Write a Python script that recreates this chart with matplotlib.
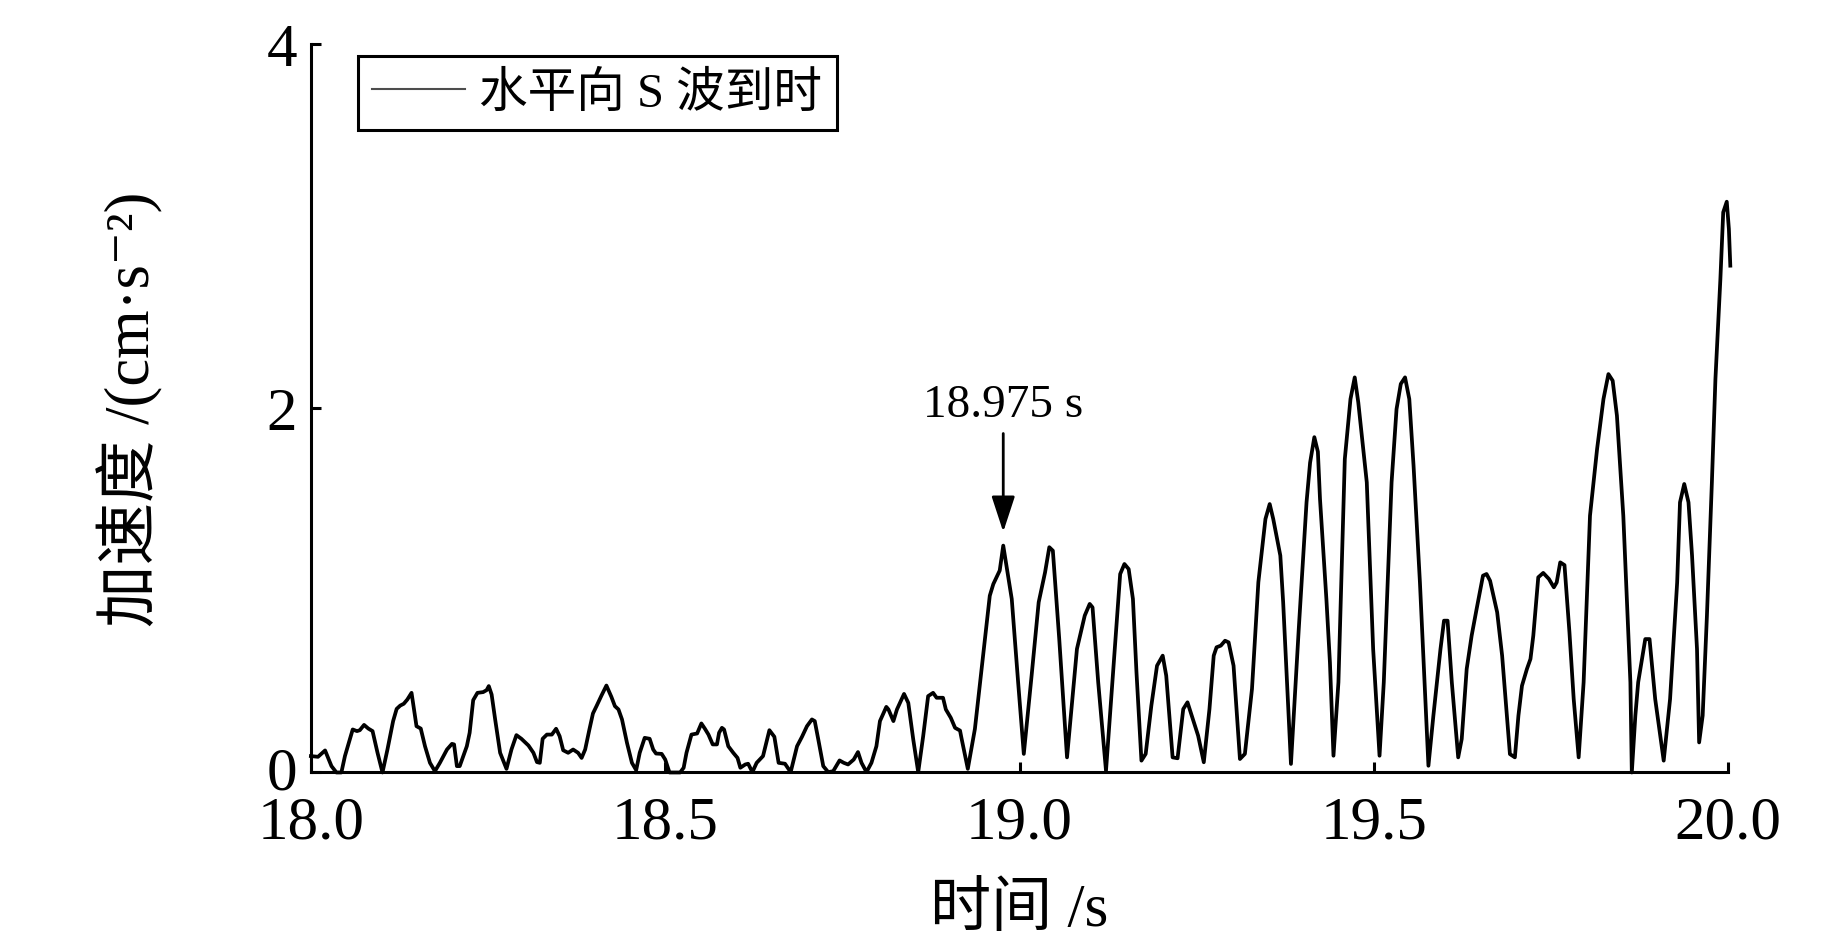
import numpy as np
import matplotlib
matplotlib.use('Agg')
import matplotlib.pyplot as plt
from matplotlib.transforms import ScaledTranslation

# Fonts: Times-like for latin, CJK fallback
plt.rcParams['font.family'] = ['Liberation Serif', 'Noto Sans CJK SC', 'DejaVu Serif']
plt.rcParams['axes.unicode_minus'] = True

# Data
t = [18.000, 18.010, 18.020, 18.029, 18.036, 18.043, 18.048, 18.059, 18.065, 18.069,
     18.075, 18.081, 18.087, 18.094, 18.101, 18.108, 18.116, 18.121, 18.126, 18.131,
     18.136, 18.142, 18.149, 18.155, 18.161, 18.168, 18.175, 18.182, 18.192, 18.199,
     18.202, 18.206, 18.210, 18.220, 18.224, 18.229, 18.235, 18.243, 18.248, 18.251,
     18.255, 18.260, 18.267, 18.276, 18.283, 18.290, 18.297, 18.307, 18.314, 18.319,
     18.323, 18.327, 18.333, 18.340, 18.346, 18.351, 18.356, 18.363, 18.370, 18.377,
     18.382, 18.387, 18.393, 18.398, 18.403, 18.410, 18.417, 18.424, 18.429, 18.434,
     18.439, 18.446, 18.453, 18.459, 18.464, 18.471, 18.478, 18.483, 18.487, 18.495,
     18.500, 18.506, 18.521, 18.526, 18.530, 18.537, 18.545, 18.551, 18.556, 18.561,
     18.567, 18.573, 18.576, 18.580, 18.583, 18.589, 18.596, 18.602, 18.606, 18.613,
     18.617, 18.623, 18.629, 18.638, 18.647, 18.654, 18.660, 18.669, 18.677, 18.686,
     18.693, 18.700, 18.707, 18.711, 18.716, 18.723, 18.730, 18.737, 18.746, 18.752,
     18.758, 18.766, 18.772, 18.777, 18.784, 18.791, 18.798, 18.803, 18.812, 18.815,
     18.822, 18.827, 18.837, 18.843, 18.850, 18.857, 18.864, 18.871, 18.878, 18.883,
     18.892, 18.896, 18.903, 18.909, 18.916, 18.918, 18.927, 18.937, 18.949, 18.958,
     18.963, 18.972, 18.977, 18.989, 18.998, 19.006, 19.017, 19.027, 19.036, 19.042,
     19.047, 19.056, 19.067, 19.081, 19.092, 19.099, 19.103, 19.111, 19.122, 19.132,
     19.142, 19.148, 19.154, 19.160, 19.165, 19.172, 19.178, 19.186, 19.194, 19.202,
     19.207, 19.216, 19.223, 19.231, 19.237, 19.243, 19.252, 19.260, 19.268, 19.274,
     19.278, 19.284, 19.290, 19.295, 19.302, 19.311, 19.318, 19.328, 19.337, 19.347,
     19.353, 19.358, 19.368, 19.372, 19.383, 19.394, 19.405, 19.410, 19.416, 19.421,
     19.424, 19.433, 19.438, 19.443, 19.450, 19.459, 19.467, 19.473, 19.478, 19.485,
     19.490, 19.499, 19.508, 19.514, 19.525, 19.532, 19.538, 19.544, 19.550, 19.556,
     19.565, 19.577, 19.584, 19.594, 19.599, 19.604, 19.610, 19.619, 19.624, 19.631,
     19.638, 19.645, 19.654, 19.659, 19.664, 19.674, 19.681, 19.692, 19.699, 19.704,
     19.709, 19.716, 19.721, 19.725, 19.732, 19.739, 19.747, 19.754, 19.758, 19.763,
     19.769, 19.776, 19.782, 19.789, 19.796, 19.805, 19.815, 19.824, 19.831, 19.837,
     19.843, 19.852, 19.862, 19.864, 19.869, 19.873, 19.883, 19.889, 19.897, 19.909,
     19.918, 19.928, 19.932, 19.938, 19.944, 19.949, 19.956, 19.959, 19.964, 19.970,
     19.977, 19.982, 19.989, 19.993, 19.998, 20.001, 20.003]

acc = [0.090, 0.086, 0.121, 0.035, 0.000, 0.000, 0.090, 0.236, 0.227, 0.232,
       0.261, 0.241, 0.227, 0.108, 0.000, 0.126, 0.282, 0.349, 0.367, 0.377,
       0.400, 0.437, 0.254, 0.241, 0.144, 0.053, 0.007, 0.053, 0.126, 0.157,
       0.154, 0.035, 0.035, 0.144, 0.218, 0.397, 0.437, 0.441, 0.452, 0.474,
       0.428, 0.291, 0.108, 0.020, 0.126, 0.205, 0.185, 0.148, 0.108, 0.057,
       0.053, 0.185, 0.208, 0.208, 0.240, 0.199, 0.122, 0.108, 0.126, 0.108,
       0.080, 0.126, 0.236, 0.324, 0.364, 0.422, 0.477, 0.415, 0.364, 0.346,
       0.291, 0.163, 0.053, 0.013, 0.108, 0.190, 0.185, 0.126, 0.104, 0.102,
       0.071, 0.000, 0.000, 0.026, 0.108, 0.208, 0.214, 0.269, 0.240, 0.208,
       0.154, 0.154, 0.218, 0.245, 0.236, 0.144, 0.108, 0.080, 0.026, 0.044,
       0.048, 0.002, 0.053, 0.090, 0.232, 0.196, 0.053, 0.048, 0.002, 0.144,
       0.196, 0.254, 0.291, 0.282, 0.181, 0.035, 0.002, 0.007, 0.066, 0.053,
       0.044, 0.071, 0.112, 0.053, 0.002, 0.053, 0.144, 0.282, 0.360, 0.346,
       0.282, 0.346, 0.431, 0.382, 0.181, 0.002, 0.199, 0.419, 0.437, 0.410,
       0.410, 0.346, 0.300, 0.245, 0.230, 0.190, 0.020, 0.239, 0.659, 0.970,
       1.034, 1.108, 1.245, 0.952, 0.495, 0.102, 0.531, 0.934, 1.098, 1.236,
       1.217, 0.733, 0.083, 0.678, 0.861, 0.925, 0.906, 0.495, 0.010, 0.550,
       1.089, 1.144, 1.116, 0.952, 0.550, 0.065, 0.102, 0.367, 0.586, 0.641,
       0.531, 0.083, 0.078, 0.348, 0.385, 0.312, 0.202, 0.056, 0.348, 0.641,
       0.687, 0.696, 0.723, 0.714, 0.586, 0.074, 0.102, 0.458, 1.044, 1.391,
       1.473, 1.391, 1.190, 0.934, 0.047, 0.787, 1.483, 1.700, 1.840, 1.760,
       1.500, 0.952, 0.604, 0.092, 0.495, 1.720, 2.049, 2.168, 2.031, 1.775,
       1.592, 0.677, 0.092, 0.495, 1.592, 1.994, 2.132, 2.168, 2.049, 1.684,
       1.043, 0.037, 0.312, 0.677, 0.833, 0.833, 0.495, 0.083, 0.184, 0.568,
       0.751, 0.897, 1.080, 1.089, 1.052, 0.879, 0.641, 0.101, 0.083, 0.312,
       0.476, 0.568, 0.623, 0.751, 1.071, 1.095, 1.062, 1.016, 1.043, 1.153,
       1.138, 0.769, 0.403, 0.083, 0.495, 1.409, 1.775, 2.049, 2.186, 2.150,
       1.958, 1.409, 0.495, 0.000, 0.312, 0.495, 0.732, 0.732, 0.403, 0.065,
       0.403, 1.043, 1.482, 1.583, 1.482, 1.190, 0.677, 0.165, 0.312, 0.860,
       1.592, 2.159, 2.708, 3.074, 3.132, 2.982, 2.781]

x_ticks = [18.0, 18.5, 19.0, 19.5, 20.0]
y_ticks = [0, 2, 4]
arrival_time = 18.977
arrival_label = '18.975 s'

fig = plt.figure(figsize=(18.43, 9.45), dpi=100)
ax = fig.add_axes([0.1687, 0.1815, 0.769, 0.7714])

ax.plot(t, acc, color='k', lw=2.7, label='水平向 S 波到时', clip_on=False)

# arrow marking the S-wave arrival
ax.annotate('', xy=(arrival_time, 1.32), xytext=(arrival_time, 1.86),
            arrowprops=dict(arrowstyle='-|>,head_length=1.1,head_width=0.36',
                            color='k', lw=2, shrinkA=0, shrinkB=0, mutation_scale=20))
ax.text(arrival_time, 2.016, arrival_label, ha='center', va='center', fontsize=34)

ax.set_xlim(18.0, 20.0)
ax.set_ylim(0, 4)
ax.set_xticks(x_ticks)
ax.set_xticklabels(['%.1f' % v for v in x_ticks])
ax.set_yticks(y_ticks)

for s in ['top', 'right']:
    ax.spines[s].set_visible(False)
for s in ['left', 'bottom']:
    ax.spines[s].set_linewidth(2.2)

ax.tick_params(direction='in', length=7, width=2.2, labelsize=44)
ax.tick_params(axis='x', pad=16)
ax.tick_params(axis='y', pad=10)

# the "0" sits a little higher in the original
lab0 = ax.get_yticklabels()[0]
lab0.set_transform(lab0.get_transform() + ScaledTranslation(0, 4 / 72, fig.dpi_scale_trans))

ax.set_xlabel('时间 /s', fontsize=44)
ax.set_ylabel('加速度 /(cm·s⁻²)', fontsize=45)
ax.xaxis.set_label_coords(0.5, -0.15)
ax.yaxis.set_label_coords(-0.104, 0.5)

leg = ax.legend(loc='upper left', bbox_to_anchor=(0.033, 0.983), borderaxespad=0,
                fancybox=False, edgecolor='k', fontsize=35, handlelength=1.9,
                handletextpad=0.3, borderpad=0.3, framealpha=1)
leg.get_frame().set_linewidth(2.2)
leg.get_lines()[0].set_linewidth(1.5)
leg.get_lines()[0].set_color('0.3')

fig.savefig('out.png', dpi=100)
